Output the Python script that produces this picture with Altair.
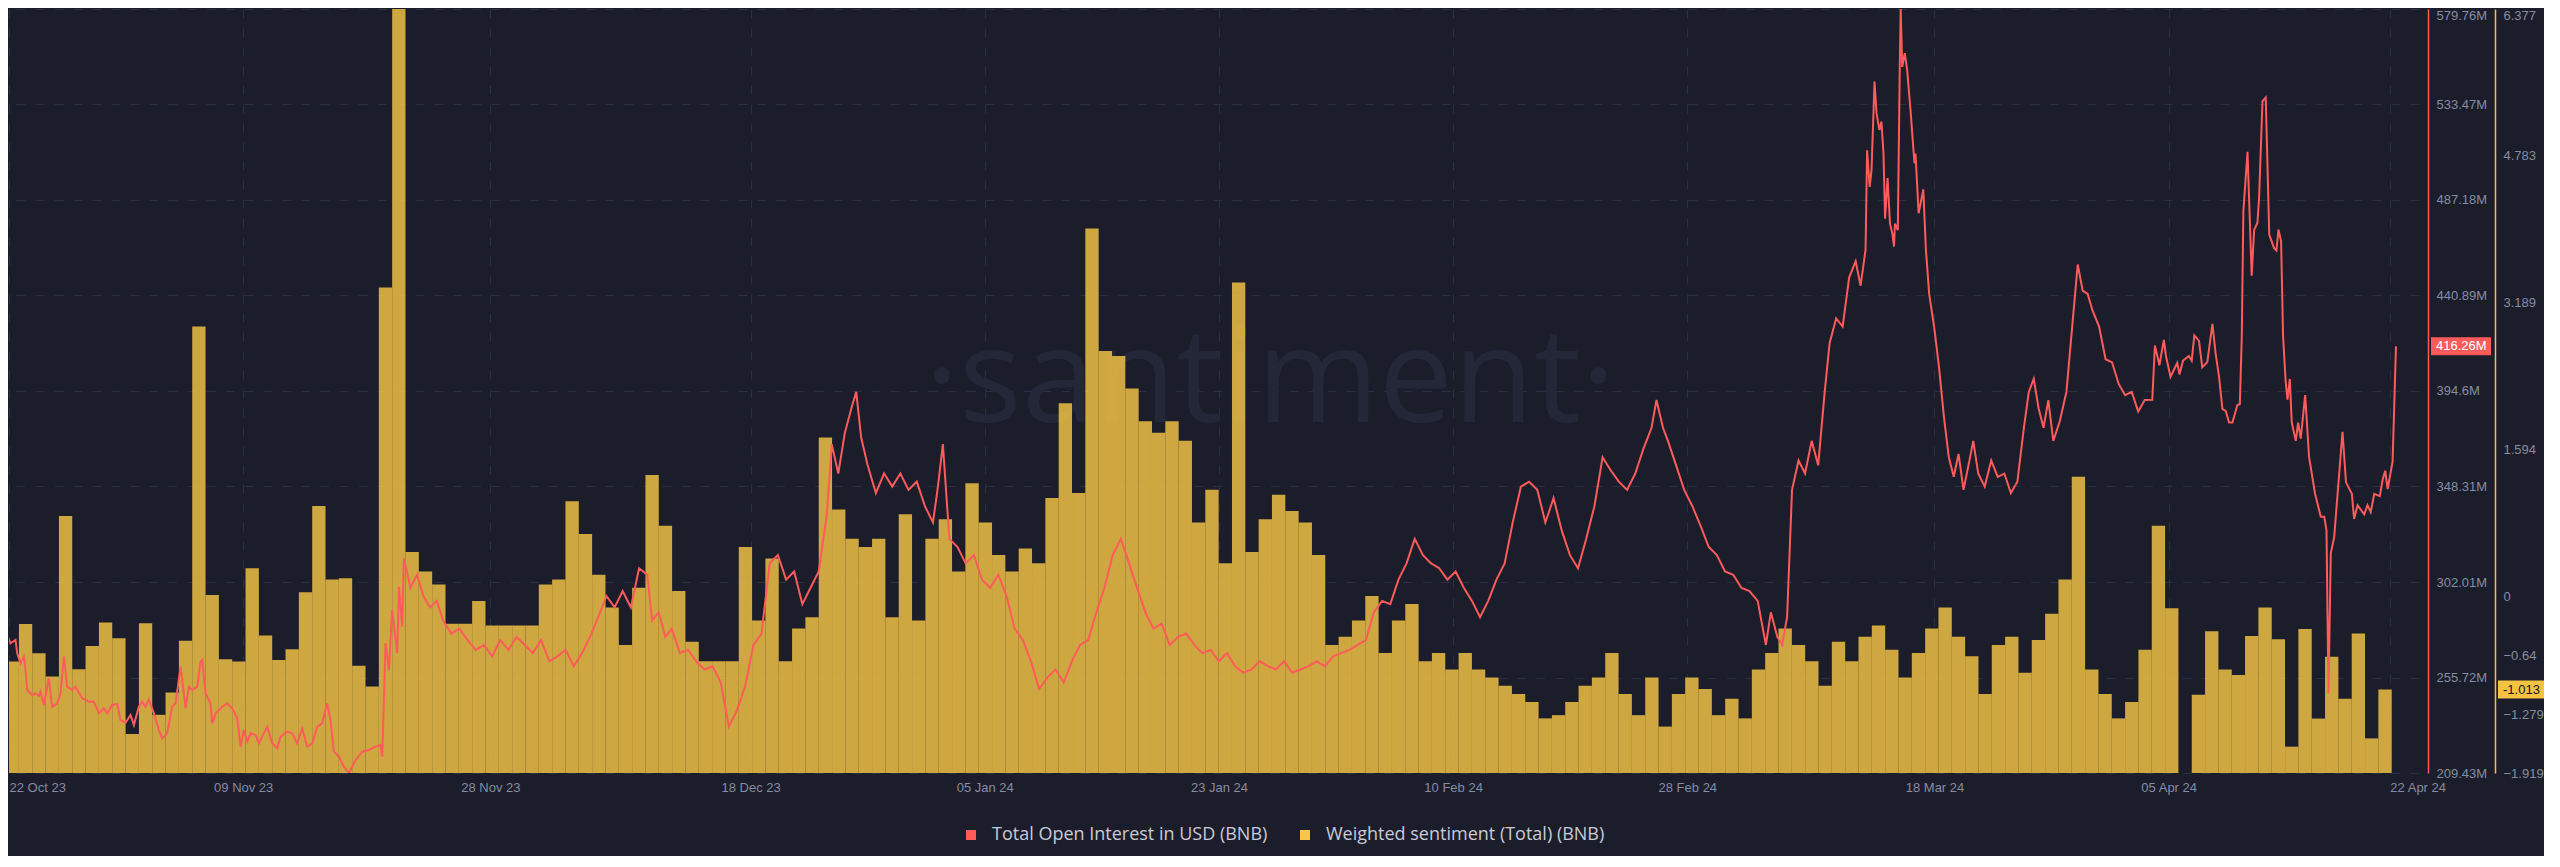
import altair as alt
import pandas as pd

BASE = pd.Timestamp("2023-10-22 00:00:00")
RED = "#ff5b5b"
GOLD = "#f7c645"
GOLD_AXIS = "#f3c14b"
BG = "#1b1d2b"
GRID = "#2b2f43"
LABEL = "#868ca2"
FONT = "Liberation Sans"

OI_NAME = "Total Open Interest in USD (BNB)"
SENT_NAME = "Weighted sentiment (Total) (BNB)"

# daily weighted sentiment bars (first bar starts slightly before the visible range)
sent_first_day = -1.286
sent_step_days = 1.0246
sentiment = [
    -0.709, -0.709, -0.300, -0.619, -0.872, 0.872, -0.793, -0.539, -0.285, -0.456,
    -1.495, -0.293, -1.287, -1.046, -0.484, 2.929, 0.014, -0.684, -0.709, 0.305,
    -0.427, -0.691, -0.574, 0.044, 0.979, 0.181, 0.195, -0.755, -0.980, 3.354,
    6.377, 0.482, 0.269, 0.128, -0.298, -0.298, -0.050, -0.316, -0.316, -0.316,
    -0.316, 0.128, 0.181, 1.032, 0.677, 0.234, -0.121, -0.528, 0.092, 1.316,
    0.766, 0.057, -0.493, -0.706, -0.706, -0.706, 0.535, -0.262, 0.411, -0.706,
    -0.351, -0.227, 1.723, 0.943, 0.624, 0.535, 0.624, -0.227, 0.890, -0.262,
    0.624, 0.837, 0.269, 1.227, 0.801, 0.447, 0.269, 0.518, 0.358, 1.067,
    2.096, 1.121, 3.993, 2.663, 2.610, 2.255, 1.901, 1.777, 1.901, 1.688,
    0.801, 1.156, 0.358, 3.408, 0.482, 0.837, 1.103, 0.926, 0.801, 0.447,
    -0.528, -0.440, -0.262, 0.004, -0.617, -0.262, -0.085, -0.706, -0.617, -0.794,
    -0.617, -0.794, -0.883, -0.972, -1.060, -1.149, -1.326, -1.291, -1.149, -0.972,
    -0.883, -0.617, -1.060, -1.291, -0.883, -1.415, -1.060, -0.883, -1.007, -1.291,
    -1.113, -1.326, -0.794, -0.617, -0.351, -0.528, -0.706, -0.972, -0.493, -0.706,
    -0.440, -0.316, -0.582, -0.883, -0.617, -0.351, -0.121, -0.440, -0.652, -1.060,
    -0.528, -0.440, -0.830, -0.475, -0.191, 0.181, 1.298, -0.794, -1.060, -1.326,
    -1.149, -0.582, 0.766, -0.131, -1.919, -1.069, -0.381, -0.794, -0.855, -0.431,
    -0.121, -0.466, -1.633, -0.356, -1.328, -0.656, -1.113, -0.404, -1.543, -1.013,
]

# open interest line: days since 22 Oct 2023, value in million USD
oi_day = [
    -0.40, -0.22, 0.12, 0.50, 0.63, 0.89, 1.14, 1.27, 1.40, 1.78, 2.04, 2.30, 2.42, 2.68,
    3.06, 3.32, 3.71, 3.96, 4.22, 4.47, 4.86, 5.11, 5.63, 6.14, 6.52, 6.91, 7.29, 7.55,
    7.93, 8.32, 8.57, 8.96, 9.34, 9.60, 9.98, 10.24, 10.49, 10.75, 11.14, 11.52, 11.78,
    12.16, 12.54, 12.80, 13.19, 13.57, 13.83, 14.08, 14.47, 14.72, 14.85, 15.11, 15.49,
    15.62, 15.88, 16.39, 16.77, 17.16, 17.54, 17.80, 18.05, 18.31, 18.57, 18.95, 19.21,
    19.46, 19.85, 20.23, 20.62, 20.87, 21.38, 21.77, 22.15, 22.54, 22.92, 23.31, 23.69,
    24.07, 24.46, 24.71, 24.97, 25.36, 25.74, 26.12, 26.64, 27.15, 27.66, 28.17, 28.56,
    28.69, 28.94, 29.20, 29.45, 29.84, 29.97, 30.22,
    30.35, 30.86, 31.36, 31.86, 32.36, 32.87, 33.37, 33.99, 34.62, 35.25, 35.88, 36.51,
    37.13, 37.76, 38.39, 39.02, 39.64, 40.27, 40.90, 41.53, 42.15, 42.78, 43.41, 44.04,
    44.66, 45.29, 45.92, 46.55, 47.17, 47.80, 48.43, 49.06, 49.43, 49.94, 50.44, 50.94,
    51.57, 52.20, 52.82, 53.45, 54.08, 54.71, 55.33, 55.96, 56.59, 57.22, 57.84, 58.47,
    59.10, 59.73, 60.35, 60.98, 61.61, 62.24, 62.86, 63.24, 63.74, 64.25, 64.75, 65.12,
    65.50, 66.00, 66.63, 67.26, 67.89, 68.51, 69.14, 69.77, 70.40, 71.02, 71.40, 71.78,
    72.28, 72.91, 73.53, 74.16, 74.79, 75.42, 76.04, 76.67, 77.30, 77.93, 78.55, 79.18,
    79.81, 80.44, 81.07, 81.69, 82.32, 82.95, 83.58, 84.20, 84.83, 85.46, 86.09, 86.71,
    87.34, 87.97, 88.60, 89.22, 89.85, 90.48, 91.11, 91.73, 92.36, 92.99, 93.62, 94.24,
    94.87, 95.50, 96.13, 96.76, 97.38, 98.01, 98.64, 99.27, 99.89, 100.52, 101.15, 101.78,
    102.40, 103.03, 103.66, 104.29, 104.91, 105.54, 106.17, 106.80, 107.42, 108.05,
    108.68, 109.31, 109.93, 110.56, 111.19, 111.82, 112.45, 113.07, 113.70, 114.33,
    114.96, 115.58, 116.21, 116.84, 117.47, 118.09, 118.72, 119.35, 119.98, 120.60,
    121.23, 121.86, 122.49, 123.11, 123.74, 124.37, 125.00, 125.62, 126.25, 126.63,
    127.13, 127.51, 128.14, 128.76, 129.39, 130.02, 130.65, 131.27, 131.90, 132.53,
    133.16, 133.78, 134.41, 135.04, 135.42, 135.92, 136.29, 136.67, 137.05, 137.55,
    138.05, 138.56, 139.06, 139.56, 139.94, 140.44, 140.94, 141.44, 141.94, 142.32,
    142.70, 142.82, 143.02, 143.16, 143.39, 143.54, 143.76, 143.92, 144.08, 144.20,
    144.39, 144.58, 144.76, 144.89, 144.96, 145.18, 145.33, 145.40, 145.52, 145.71,
    145.90, 146.15, 146.46, 146.54, 146.78, 146.93, 147.14, 147.34, 147.59, 147.97,
    148.35, 148.72, 149.10, 149.48, 149.85, 150.23, 150.61, 150.98, 151.36, 151.86,
    152.36, 152.86, 153.37, 153.87, 154.37, 154.87, 155.25, 155.63, 156.00, 156.38,
    156.75, 157.13, 157.63, 158.14, 158.64, 159.01, 159.39, 159.77, 160.14, 160.65,
    161.15, 161.65, 162.15, 162.65, 163.16, 163.66, 164.16, 164.74, 164.94, 165.29,
    165.63, 165.79, 166.14, 166.66, 166.83, 167.10, 167.55, 167.77, 167.97, 168.33,
    168.58, 168.97, 169.36, 169.61, 169.87, 170.13, 170.39, 170.64, 170.90, 171.28,
    171.47, 171.62, 171.74, 172.06, 172.38, 172.57, 172.82, 172.95, 173.21, 173.46,
    173.73, 174.10, 174.28, 174.44, 174.64, 174.79, 174.99, 175.13, 175.31, 175.46,
    175.77, 175.95, 176.15, 176.49, 176.79, 177.05, 177.25, 177.69, 177.96, 178.13,
    178.28, 178.46, 178.72, 178.97, 179.36, 179.63, 180.08, 180.25, 180.52, 181.03,
    181.28, 181.53, 181.80, 182.23, 182.44, 182.64, 182.83, 183.21, 183.33, 183.47,
]
oi_musd = [
    269.05, 277.46, 272.29, 273.90, 267.44, 262.59, 265.82, 259.36, 249.66, 247.24, 248.05,
    246.76, 248.86, 242.39, 255.32, 241.58, 243.20, 248.05, 265.82, 251.28, 249.66, 251.28,
    245.62, 244.01, 244.01, 238.35, 240.78, 238.35, 242.39, 242.88, 235.12, 233.83, 237.55,
    232.70, 241.58, 244.01, 241.58, 245.14, 238.35, 230.27, 226.23, 228.66, 241.58, 243.20,
    260.97, 240.78, 251.28, 249.66, 251.28, 263.40, 264.21, 248.05, 243.20, 233.51, 238.35,
    241.58, 243.20, 240.78, 235.93, 222.20, 230.27, 224.62, 228.66, 227.85, 223.81, 227.04,
    231.89, 223.81, 221.39, 227.04, 229.47, 228.66, 223.81, 231.08, 222.20, 223.81, 231.89,
    233.51, 243.20, 235.12, 219.77, 217.35, 212.50, 209.43, 215.73, 219.77, 220.58, 222.20,
    223.00, 217.35, 272.29, 259.36, 288.44, 267.44, 299.75, 280.37,
    313.44, 299.19, 305.52, 295.23, 289.69, 292.86, 283.36, 277.03, 279.40, 273.86, 269.11,
    271.49, 265.95, 273.86, 269.11, 275.44, 271.49, 267.53, 273.86, 263.57, 265.95, 269.11,
    261.20, 267.53, 275.44, 284.94, 295.23, 289.69, 297.61, 289.69, 308.69, 305.52, 283.36,
    287.32, 275.44, 279.40, 267.53, 269.11, 263.57, 259.61, 261.20, 253.28, 231.91, 239.83,
    251.70, 271.49, 277.03, 311.06, 315.02, 303.15, 307.10, 291.27, 299.19, 307.10, 334.81,
    368.84, 354.59, 374.38, 386.25, 394.17, 372.01, 358.55, 345.10, 354.59, 348.26, 354.59,
    346.68, 350.64, 338.76, 330.85, 348.26, 368.84, 322.93, 318.98, 311.06, 315.02, 303.15,
    299.19, 305.52, 295.23, 279.40, 273.86, 263.57, 250.12, 255.66, 259.61, 253.28, 263.57,
    271.49, 273.86, 287.32, 299.19, 315.02, 322.93, 311.06, 299.19, 287.32, 279.40, 281.78,
    271.49, 275.44, 277.03, 271.49, 267.53, 269.11, 263.57, 267.53, 261.20, 258.03, 259.61,
    263.57, 261.20, 259.61, 263.57, 258.03, 259.61, 261.20, 263.57, 261.20, 265.95, 267.53,
    269.11, 271.49, 273.86, 287.32, 292.86, 291.27, 303.15, 311.06, 322.93, 315.02, 311.06,
    308.69, 303.15, 307.10, 299.19, 292.86, 284.94, 292.86, 303.15, 311.06, 330.85, 348.26,
    350.64, 346.68, 330.85, 342.72, 326.89, 315.02, 308.69, 322.93, 338.76, 362.51, 356.18,
    350.64, 346.68, 354.59, 366.47, 376.76, 390.21, 376.76, 370.42, 358.55, 346.68, 338.76,
    329.27, 318.98, 315.02, 307.10, 305.52, 299.19, 297.61, 292.86, 271.49, 287.32, 275.44,
    271.49, 284.94, 346.68, 360.93, 354.59, 370.42, 358.55, 394.17, 417.91, 429.79, 425.83,
    449.57, 457.49, 445.62, 463.03, 511.31, 493.50, 501.81, 544.55, 529.52, 521.13, 525.16,
    509.73, 478.07, 497.86, 475.69, 470.95, 464.61, 475.69, 472.53, 551.68, 579.76, 551.68,
    558.33, 550.10, 531.10, 504.98, 509.73, 480.76, 485.59, 492.32, 463.03, 441.66, 425.83,
    406.04, 382.30, 362.51, 353.01, 364.09, 346.68, 358.55, 370.42, 354.59, 348.26, 360.93,
    353.01, 354.59, 345.10, 350.64, 376.76, 394.17, 400.50, 386.25, 376.76, 390.21, 370.42,
    379.92, 394.17, 429.79, 455.91, 443.24, 441.66, 433.74, 425.83, 410.00, 408.42, 398.13,
    392.59, 394.17, 384.67, 390.21, 390.37, 416.65, 407.07, 419.34, 411.58, 401.53, 408.18,
    402.64, 409.29, 411.58, 409.29, 421.56, 418.86, 406.04, 408.65, 427.10, 412.69, 401.53,
    385.94, 384.83, 379.29, 379.29, 387.76, 388.15, 421.56, 481.63, 510.52, 450.45, 472.77,
    476.09, 488.36, 535.06, 536.80, 470.47, 463.82, 462.71, 472.77, 467.15, 421.56, 399.31,
    390.37, 400.42, 379.29, 370.42, 379.29, 371.53, 392.59, 362.59, 352.62, 344.78, 333.70,
    333.70, 326.97, 247.98, 315.89, 323.65, 343.67, 374.86, 350.32, 344.78, 332.59, 339.24,
    334.81, 339.24, 335.92, 344.78, 343.67, 351.43, 355.94, 347.00, 360.37, 385.94, 416.26,
]

oi_ticks = [209.43, 255.72, 302.01, 348.31, 394.6, 440.89, 487.18, 533.47, 579.76]
sent_ticks = [-1.919, -1.279, -0.64, 0, 1.594, 3.189, 4.783, 6.377]
date_ticks = [(2023, 10, 22), (2023, 11, 9), (2023, 11, 28), (2023, 12, 18), (2024, 1, 5),
              (2024, 1, 23), (2024, 2, 10), (2024, 2, 28), (2024, 3, 18), (2024, 4, 5),
              (2024, 4, 22)]

W, H = 2410, 764


def ts(day):
    return (BASE + pd.to_timedelta(day, unit="D")).strftime("%Y-%m-%dT%H:%M:%S")


bars = pd.DataFrame({
    "start": [ts(sent_first_day + i * sent_step_days) for i in range(len(sentiment))],
    "end": [ts(sent_first_day + (i + 1) * sent_step_days) for i in range(len(sentiment))],
    "value": sentiment,
    "series": SENT_NAME,
})
line = pd.DataFrame({"t": [ts(d) for d in oi_day], "oi": oi_musd, "series": OI_NAME})
oi_last = pd.DataFrame({"v": [oi_musd[-1]], "label": [f"{oi_musd[-1]:.2f}M"]})
sent_last = pd.DataFrame({"v": [sentiment[-1]], "label": [f"{sentiment[-1]:.3f}"]})
mark_df = pd.DataFrame({"w": ["·santiment·"]})

x_scale = alt.Scale(domain=[alt.DateTime(year=2023, month=10, date=22),
                            alt.DateTime(year=2024, month=4, date=24, hours=5, minutes=46)])
x_axis = alt.Axis(
    values=[alt.DateTime(year=y, month=m, date=d) for y, m, d in date_ticks],
    format="%d %b %y", title=None, domain=False, tickSize=0, labelFlush=False,
    labelColor=LABEL, labelFont=FONT, labelFontSize=13, labelPadding=8,
    grid=True, gridColor=GRID, gridDash=[9, 10], gridWidth=1,
    labelAlign={"condition": {"test": "datum.value < 1698796800000 || datum.value > 1712707200000",
                              "value": "left"}, "value": "center"},
)
oi_scale = alt.Scale(domain=[209.43, 579.76], nice=False, zero=False)
sent_scale = alt.Scale(domain=[-1.919, 6.377], nice=False, zero=False)

oi_axis = alt.Axis(
    orient="right", offset=9, values=oi_ticks, labelExpr="format(datum.value, '.2~f') + 'M'",
    domain=True, domainColor=RED, domainWidth=1.5, ticks=False, title=None,
    grid=True, gridColor=GRID, gridDash=[9, 10], gridWidth=1,
    labelColor=LABEL, labelFont=FONT, labelFontSize=13, labelPadding=8,
    labelBaseline={"condition": {"test": "datum.value > 579", "value": "top"}, "value": "middle"})
sent_axis = alt.Axis(
    orient="right", offset=76, values=sent_ticks, labelExpr="format(datum.value, '.3~f')",
    domain=True, domainColor=GOLD_AXIS, domainWidth=1.5, ticks=False, grid=False, title=None,
    labelColor=LABEL, labelFont=FONT, labelFontSize=13, labelPadding=8,
    labelBaseline={"condition": {"test": "datum.value > 6.3", "value": "top"}, "value": "middle"})

watermark = alt.Chart(mark_df).mark_text(
    font="Open Sans", fontSize=132, color="#232738", align="center", baseline="alphabetic"
).encode(x=alt.value(1261), y=alt.value(413), text="w:N")

bar = alt.Chart(bars).mark_bar(clip=True, opacity=0.82).encode(
    x=alt.X("start:T", scale=x_scale, axis=x_axis),
    x2="end:T",
    y=alt.Y("value:Q", scale=sent_scale, axis=sent_axis),
    y2=alt.datum(-1.919),
    color=alt.Color("series:N", scale=alt.Scale(domain=[OI_NAME, SENT_NAME], range=[RED, GOLD]),
                    legend=alt.Legend(orient="none", legendX=953, legendY=817, direction="horizontal",
                                      title=None, symbolType="square", symbolSize=100,
                                      symbolStrokeWidth=0, symbolOpacity=1, labelColor="#c8cbd6",
                                      labelFont="Open Sans", labelFontSize=18, labelOffset=12,
                                      labelLimit=600, columnPadding=28, padding=0)),
)
sent_rect = alt.Chart(sent_last).mark_rect(color="#f5c242", yOffset=-9, y2Offset=9).encode(
    x=alt.value(W + 79), x2=alt.value(W + 125),
    y=alt.Y("v:Q", scale=sent_scale, axis=None), y2="v")
sent_text = alt.Chart(sent_last).mark_text(
    align="left", baseline="middle", color="#15161f", font=FONT, fontSize=13
).encode(x=alt.value(W + 84), y=alt.Y("v:Q", scale=sent_scale, axis=None), text="label:N")

oi_line = alt.Chart(line).mark_line(clip=True, color=RED, strokeWidth=2).encode(
    x=alt.X("t:T", scale=x_scale, axis=x_axis),
    y=alt.Y("oi:Q", scale=oi_scale, axis=oi_axis),
)
oi_rect = alt.Chart(oi_last).mark_rect(color=RED, yOffset=-9, y2Offset=9).encode(
    x=alt.value(W + 12), x2=alt.value(W + 72),
    y=alt.Y("v:Q", scale=oi_scale, axis=None), y2="v")
oi_text = alt.Chart(oi_last).mark_text(
    align="left", baseline="middle", color="white", font=FONT, fontSize=13
).encode(x=alt.value(W + 17), y=alt.Y("v:Q", scale=oi_scale, axis=None), text="label:N")

chart = alt.layer(
    watermark, bar, oi_line, sent_rect, sent_text, oi_rect, oi_text
).resolve_scale(y="independent").resolve_axis(y="independent").properties(
    width=W, height=H, background=BG,
    padding={"left": 0, "top": 1, "right": 0, "bottom": 12},
).configure_view(strokeWidth=0)

chart.save("out.html", embed_options={"renderer": "svg", "actions": False})
